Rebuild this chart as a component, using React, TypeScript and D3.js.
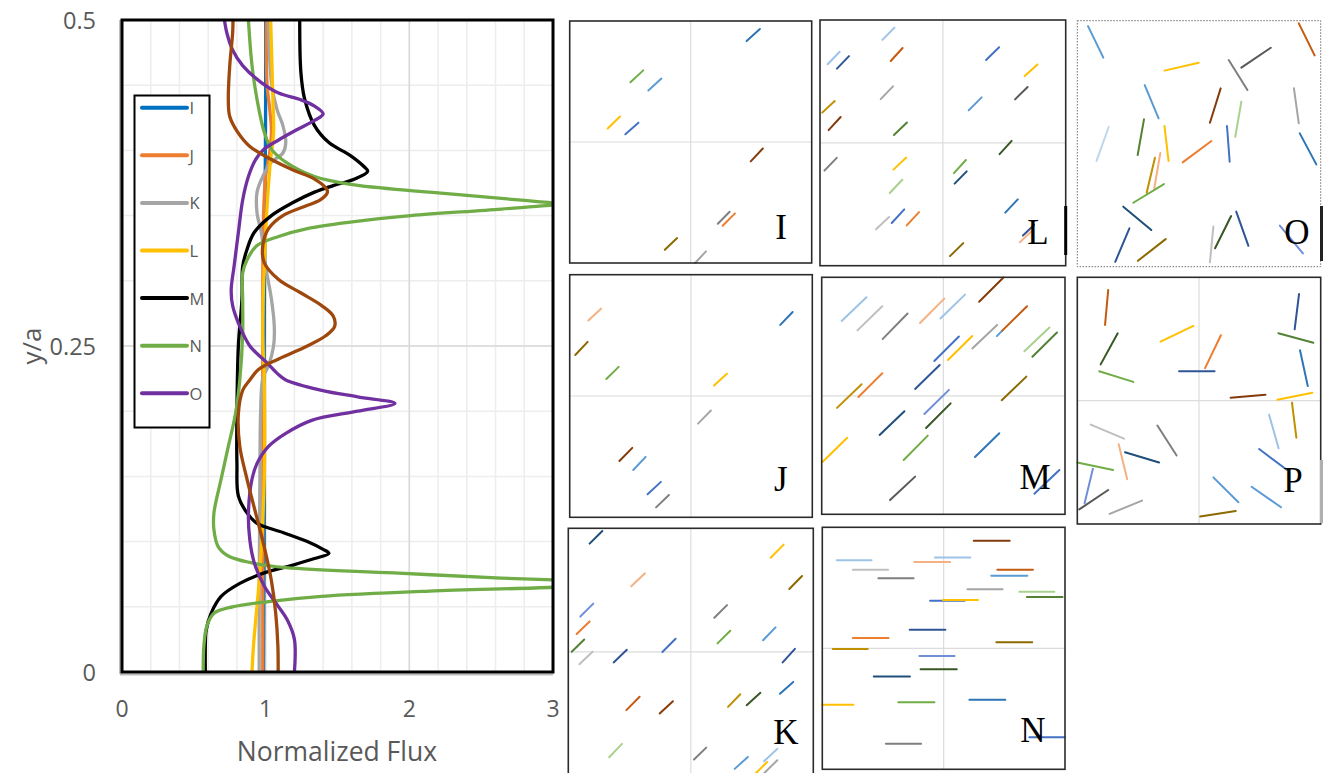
import React from 'react';
import * as d3 from 'd3';

// ---------- main chart data ----------
const xTicks = [0, 1, 2, 3];
const yTicks = [0, 0.25, 0.5];
const xMinor = d3.range(0, 3.0001, 0.2);
const yMinor = d3.range(0, 0.5001, 0.05);
const legendNames = ['I', 'J', 'K', 'L', 'M', 'N', 'O'];
const seriesNames = ['I', 'J', 'K', 'L', 'M', 'N', 'O', 'P'];
const seriesColors = ['#0070C0', '#ED7D31', '#A5A5A5', '#FFC000', '#000000', '#70AD47', '#7030A0', '#9E480E'];

// [y/a, normalized flux]
const fluxI = [[0, 0.985], [0.05, 0.987], [0.1, 0.99], [0.15, 0.99], [0.2, 0.99], [0.25, 0.99], [0.3, 0.992], [0.35, 0.995], [0.4, 0.998], [0.45, 1.0], [0.5, 1.0]];
const fluxJ = [[0, 0.98], [0.1, 0.98], [0.2, 0.98], [0.3, 0.98], [0.35, 0.985], [0.38, 1.0], [0.4, 1.03], [0.415, 1.04], [0.43, 1.03], [0.45, 1.01], [0.5, 1.005]];
const fluxK = [[0, 0.955], [0.05, 0.955], [0.1, 0.957], [0.15, 0.96], [0.2, 0.965], [0.225, 0.98], [0.235, 1.02], [0.25, 1.055], [0.265, 1.06], [0.286, 1.04], [0.311, 1.0], [0.337, 0.97], [0.352, 0.94], [0.368, 0.94], [0.38, 0.98], [0.391, 1.04], [0.398, 1.12], [0.406, 1.14], [0.419, 1.12], [0.431, 1.08], [0.452, 1.04], [0.5, 1.02]];
const fluxL = [[0, 0.905], [0.02, 0.915], [0.045, 0.935], [0.07, 0.955], [0.148, 0.99], [0.224, 0.99], [0.26, 0.98], [0.337, 1.0], [0.388, 1.03], [0.414, 1.055], [0.44, 1.05], [0.5, 1.035]];
const fluxM = [[0, 0.58], [0.02, 0.58], [0.032, 0.586], [0.045, 0.62], [0.058, 0.69], [0.068, 0.82], [0.076, 0.99], [0.082, 1.19], [0.087, 1.34], [0.091, 1.44], [0.094, 1.4], [0.1, 1.29], [0.107, 1.12], [0.114, 0.94], [0.122, 0.87], [0.135, 0.81], [0.16, 0.8], [0.2, 0.8], [0.25, 0.81], [0.286, 0.835], [0.311, 0.84], [0.324, 0.87], [0.337, 0.92], [0.35, 1.04], [0.36, 1.19], [0.368, 1.34], [0.373, 1.47], [0.378, 1.62], [0.384, 1.71], [0.388, 1.68], [0.396, 1.59], [0.406, 1.44], [0.419, 1.34], [0.44, 1.27], [0.46, 1.245], [0.5, 1.237]];
const fluxN = [[0, 0.565], [0.02, 0.57], [0.035, 0.59], [0.045, 0.64], [0.05, 0.77], [0.054, 1.02], [0.058, 1.39], [0.062, 2.14], [0.065, 3.0], [0.068, 3.5], [0.0706, 3.0], [0.072, 2.64], [0.076, 1.89], [0.08, 1.14], [0.084, 0.89], [0.089, 0.74], [0.096, 0.67], [0.109, 0.64], [0.122, 0.64], [0.148, 0.69], [0.173, 0.74], [0.198, 0.79], [0.224, 0.82], [0.26, 0.84], [0.286, 0.84], [0.306, 0.84], [0.316, 0.87], [0.327, 0.94], [0.334, 1.09], [0.34, 1.29], [0.345, 1.59], [0.35, 2.01], [0.355, 2.64], [0.359, 3.03], [0.362, 2.76], [0.368, 2.14], [0.374, 1.59], [0.38, 1.34], [0.391, 1.14], [0.401, 1.04], [0.414, 0.99], [0.439, 0.94], [0.465, 0.905], [0.5, 0.88]];
const fluxO = [[0, 1.2], [0.025, 1.2], [0.04, 1.15], [0.05, 1.09], [0.066, 0.99], [0.084, 0.92], [0.101, 0.89], [0.122, 0.88], [0.148, 0.905], [0.16, 0.94], [0.173, 1.02], [0.183, 1.14], [0.193, 1.32], [0.2, 1.64], [0.206, 1.9], [0.211, 1.64], [0.216, 1.39], [0.224, 1.14], [0.229, 1.08], [0.237, 1.01], [0.25, 0.89], [0.265, 0.82], [0.281, 0.77], [0.293, 0.76], [0.311, 0.78], [0.337, 0.81], [0.362, 0.84], [0.38, 0.88], [0.393, 0.93], [0.401, 0.99], [0.408, 1.09], [0.416, 1.22], [0.423, 1.34], [0.428, 1.4], [0.434, 1.34], [0.439, 1.24], [0.444, 1.09], [0.452, 0.97], [0.465, 0.84], [0.477, 0.77], [0.49, 0.73], [0.5, 0.713]];
const fluxP = [[0, 1.087], [0.02, 1.085], [0.045, 1.07], [0.07, 1.04], [0.096, 0.99], [0.122, 0.93], [0.148, 0.87], [0.173, 0.82], [0.198, 0.81], [0.216, 0.84], [0.224, 0.89], [0.232, 0.95], [0.24, 1.09], [0.25, 1.29], [0.258, 1.42], [0.265, 1.48], [0.273, 1.47], [0.281, 1.39], [0.291, 1.24], [0.301, 1.09], [0.314, 0.99], [0.327, 0.98], [0.34, 1.02], [0.35, 1.12], [0.357, 1.27], [0.362, 1.38], [0.368, 1.43], [0.371, 1.42], [0.378, 1.34], [0.385, 1.19], [0.393, 1.04], [0.403, 0.89], [0.414, 0.805], [0.426, 0.75], [0.439, 0.74], [0.465, 0.75], [0.49, 0.77], [0.5, 0.773]];
const seriesData = [fluxI, fluxJ, fluxK, fluxL, fluxM, fluxN, fluxO, fluxP];

// ---------- panel segment data (panel units 0..100, origin top-left) ----------
const segColors: Record<string, string> = {
  lb: '#9DC3E6', vlb: '#BDD7EE', b: '#5B9BD5', st: '#2E75B6', dst: '#1F4E79', rb: '#4472C4', lrb: '#6F8FD8', nv: '#2F5597',
  o: '#ED7D31', lo: '#F4B183', do: '#C55A11', br: '#843C0C', g: '#A5A5A5', lg: '#BFBFBF', dg: '#7F7F7F', ddg: '#595959',
  y: '#FFC000', dy: '#BF9000', ol: '#8C6A00', gr: '#70AD47', lgr: '#A9D18E', dgr: '#548235', ddgr: '#385723',
};

const segI = [
  [73.1, 8.3, 78.6, 3.3, 'st'], [25.1, 25.3, 30.4, 20.4, 'gr'], [32.5, 28.7, 37.9, 23.8, 'b'], [15.7, 44.4, 20.8, 39.5, 'y'],
  [23, 46.8, 28.4, 42, 'rb'], [74.8, 58, 79.8, 52.7, 'br'], [61.2, 83.8, 66.1, 78.8, 'dg'], [63.2, 84.6, 68.3, 79.5, 'o'],
  [39.3, 94.5, 44.4, 89.7, 'ol'], [51.8, 100, 56.3, 95.2, 'g'],
];
const segJ = [
  [7.7, 18.9, 12.9, 14, 'lo'], [2.3, 33.1, 7.4, 27.7, 'ol'], [15.1, 43, 20.2, 38, 'gr'], [86.8, 20.7, 91.9, 15.4, 'st'],
  [59.5, 45.7, 64.8, 40.8, 'y'], [52.9, 61.4, 58.2, 56, 'g'], [20.5, 76.8, 25.8, 71.4, 'br'], [26.2, 80.5, 31.3, 75.1, 'b'],
  [32.1, 90.5, 37.6, 85.4, 'rb'], [35.6, 95.9, 40.9, 90.8, 'dg'],
];
const segK = [
  [8.7, 6.2, 13.9, 1.1, 'dst'], [25.7, 23.5, 31.3, 18.2, 'lo'], [82.6, 11.9, 87.9, 6.6, 'y'], [90.2, 24.6, 95.4, 19.3, 'ol'],
  [4.9, 35.7, 10.2, 30.5, 'lrb'], [3.4, 42.8, 8.7, 37.7, 'o'], [1.4, 50, 6.5, 45, 'dgr'], [4.5, 55, 9.9, 50, 'lg'],
  [18.5, 54.3, 23.9, 49.2, 'nv'], [38.4, 50.1, 43.8, 44.7, 'rb'], [59.6, 36.2, 64.8, 31.1, 'dg'], [60.9, 46.6, 66.1, 41.5, 'gr'],
  [79.5, 45.3, 84.6, 40.1, 'b'], [87.5, 54.3, 92.5, 48.8, 'nv'], [23.7, 73.6, 29.1, 68.2, 'do'], [37.3, 75, 42.7, 70, 'br'],
  [65.2, 72.3, 70.2, 67.2, 'dy'], [72.8, 71.6, 78.4, 66.6, 'ddgr'], [86.4, 67, 91.8, 62.2, 'st'], [16.7, 92.7, 21.9, 87.3, 'lgr'],
  [51.3, 93.6, 56.3, 88.8, 'dg'], [67.9, 97.4, 73.3, 92.6, 'b'], [79.9, 94.3, 85.3, 89.3, 'lb'], [76.6, 99.1, 81.2, 94.6, 'y'],
  [80, 99.1, 85.3, 93.9, 'g'],
];
const segL = [
  [25.4, 8.1, 30.3, 3.1, 'lb'], [3.1, 18, 8, 12.9, 'lb'], [6.9, 19.8, 11.8, 14.7, 'nv'], [28.8, 16.7, 33.6, 11.4, 'do'],
  [24.7, 32.2, 29.7, 27, 'g'], [0.9, 37.7, 6, 33, 'dy'], [3.5, 44.8, 8.4, 39.5, 'br'], [30.1, 46.8, 35.4, 41.7, 'dgr'],
  [67.6, 16.3, 72.9, 11.1, 'rb'], [83.3, 22.8, 88.5, 18.1, 'y'], [79.4, 32.3, 84.5, 27.3, 'ddg'], [60.5, 36.8, 65.8, 31.5, 'b'],
  [1.8, 61.3, 6.8, 56.1, 'dg'], [29.9, 60.9, 35.1, 56, 'y'], [28.4, 70.4, 33.5, 65, 'lgr'], [22.8, 85.2, 28.1, 80.2, 'lg'],
  [29.2, 82.6, 34.3, 77.1, 'rb'], [35.3, 83.6, 40.3, 78.2, 'o'], [73.1, 54.6, 78, 49.2, 'ddgr'], [54.5, 62.3, 59.4, 57, 'gr'],
  [54.8, 66.6, 59.7, 61.6, 'dst'], [75.4, 78.4, 80.5, 73, 'st'], [82.6, 87.7, 87.1, 83.4, 'nv'], [81.3, 90.5, 86.2, 85.9, 'lo'],
  [52.9, 96.1, 58.3, 90.8, 'ol'],
];
const segM = [
  [8.2, 18.4, 18.4, 8.4, 'lb'], [14.7, 22.4, 24.9, 12.2, 'lg'], [25.1, 26, 35.3, 15.3, 'dg'], [40.4, 19.3, 50.4, 9, 'lo'],
  [48.8, 17.4, 58.9, 7.3, 'lb'], [64.7, 10.3, 74.7, 0.1, 'br'], [72, 24.8, 74.2, 22.5, 'b'], [74.2, 22.5, 84.4, 12.2, 'do'],
  [61.9, 30, 72.1, 20.1, 'g'], [83.3, 31.2, 93.6, 21.2, 'lgr'], [86.6, 33.5, 96.7, 23.3, 'dgr'], [46.3, 35.3, 56.4, 25, 'rb'],
  [51.9, 34.9, 61.9, 24.8, 'y'], [38.4, 47.1, 48.5, 37, 'nv'], [6.3, 55.1, 16.4, 45.1, 'dy'], [15.1, 50.5, 24.9, 40.5, 'o'],
  [74, 51.9, 84.1, 41.9, 'ol'], [42.2, 57.7, 52.3, 47.5, 'lrb'], [42.9, 63.6, 53, 53.2, 'ddgr'], [23.8, 66.5, 34, 56.5, 'dst'],
  [0.3, 77.9, 10.5, 67.7, 'y'], [33.7, 77.1, 43.6, 66.8, 'gr'], [63, 75.8, 73, 65.8, 'st'], [28.1, 94, 38.4, 84.1, 'ddg'],
  [87.4, 91.3, 97.7, 81.3, 'rb'],
];
const segN = [
  [62.4, 5.6, 77.2, 5.6, 'br'], [46.4, 12.5, 61, 12.5, 'lb'], [37.9, 14.3, 52.7, 14.3, 'lo'], [6, 13.6, 20.3, 13.6, 'lb'],
  [12.6, 17.5, 27.1, 17.5, 'lg'], [23.1, 21.1, 37.6, 21.1, 'dg'], [72.1, 17.5, 86.8, 17.5, 'do'], [69.6, 20, 84.5, 20, 'b'],
  [59.8, 25.6, 74.3, 25.6, 'g'], [81.2, 26.6, 95.6, 26.6, 'lgr'], [84.3, 28.8, 99, 28.8, 'dgr'], [44.4, 30.4, 58.7, 30.4, 'rb'],
  [49.7, 30, 64.1, 30, 'y'], [36, 42.3, 50.7, 42.3, 'nv'], [12.6, 45.7, 27.3, 45.7, 'o'], [4.3, 50.3, 18.7, 50.3, 'dy'],
  [71.7, 47.5, 86.5, 47.5, 'ol'], [40, 53.2, 54.5, 53.2, 'lrb'], [40.5, 58.7, 55.4, 58.7, 'ddgr'], [21.2, 61.7, 36.1, 61.7, 'dst'],
  [0, 73.3, 12.8, 73.3, 'y'], [31.3, 72.3, 46.2, 72.3, 'gr'], [60.6, 71.3, 75.4, 71.3, 'st'], [26.2, 89.4, 40.7, 89.4, 'dg'],
  [85.3, 86.8, 100, 86.8, 'rb'],
];
const segO = [
  [4.4, 2.2, 10.7, 15, 'b'], [91, 1.1, 97.5, 14.1, 'do'], [35.8, 20.3, 49.9, 17.1, 'y'], [67.4, 19.1, 79.5, 11, 'ddg'],
  [62.2, 16, 69.9, 28.2, 'dg'], [27.7, 26.2, 33.4, 39.7, 'b'], [58.9, 27.5, 54.5, 41.5, 'br'], [67.4, 32.9, 64.9, 47.2, 'lgr'],
  [89, 27.5, 91, 41.7, 'g'], [12.9, 43.2, 7.9, 57, 'vlb'], [27.4, 40.1, 24.8, 54.6, 'dgr'], [35.8, 42.8, 37.5, 57, 'y'],
  [43.3, 57.6, 55.1, 48.9, 'o'], [61.5, 42.8, 62.6, 57.3, 'rb'], [91.4, 45.8, 98.2, 58.4, 'st'], [31.9, 55.7, 28.5, 69.9, 'dy'],
  [34.1, 53.8, 31.6, 68.3, 'lo'], [23, 74, 35.6, 66.4, 'gr'], [18.9, 75.6, 30.4, 85.1, 'dst'], [21.4, 84.4, 15.6, 98, 'nv'],
  [24.9, 97.6, 36.3, 88.8, 'ol'], [55.9, 83.7, 54.5, 98.2, 'lg'], [63.2, 79.4, 56.6, 92.5, 'ddgr'], [65.3, 77.6, 70.3, 91.5, 'nv'],
  [83.2, 83.3, 92.7, 94.6, 'lrb'],
];
const segP = [
  [12.7, 5.1, 11.4, 19.3, 'do'], [16.6, 22.7, 9.6, 35.3, 'ddgr'], [9, 38.1, 23, 42.4, 'gr'], [34.2, 26.1, 47.7, 19.7, 'y'],
  [41.8, 38.1, 56.4, 38.1, 'nv'], [59, 23.5, 52.5, 36.8, 'o'], [91.1, 6.8, 89.3, 21.1, 'nv'], [82.6, 22.7, 97, 26.5, 'dgr'],
  [91.5, 29.6, 94.7, 44.1, 'st'], [63, 48.8, 77.3, 47.6, 'br'], [82.2, 49.6, 96.6, 46.8, 'y'], [88.2, 50.8, 90, 65, 'dy'],
  [78.8, 55.7, 82.7, 69.3, 'lb'], [5.5, 59.7, 19.2, 65.4, 'lg'], [32.9, 60.1, 40.8, 72.2, 'dg'], [17, 67.7, 20.5, 81.9, 'lo'],
  [19.6, 70.9, 33.6, 75.1, 'dst'], [0, 75.1, 14.7, 78.1, 'gr'], [6.4, 77.6, 3, 91.6, 'lrb'], [0.8, 94.1, 12.7, 86.2, 'ddg'],
  [13.3, 95.9, 26.6, 90.5, 'g'], [74.7, 69.6, 86.2, 78.1, 'rb'], [55.9, 81.1, 66.2, 91.2, 'b'], [71.6, 84.9, 83.7, 93.2, 'b'],
  [50.5, 97, 65.1, 94.7, 'ol'],
];

// ---------- layout ----------
const W = 1325, H = 773;
const plot = { left: 122, right: 553, top: 20, bottom: 672 };

type Panel = { name: string; x: number; y: number; w: number; h: number; segs: any[]; dotted?: boolean; cross: boolean; lx: number; ly: number };
const panels: Panel[] = [
  { name: 'I', x: 569.7, y: 21, w: 242, h: 242, segs: segI, cross: true, lx: 781, ly: 227 },
  { name: 'J', x: 569.7, y: 274.7, w: 242.6, h: 242.6, segs: segJ, cross: true, lx: 780.7, ly: 479 },
  { name: 'K', x: 568.3, y: 528.3, w: 245, h: 247, segs: segK, cross: true, lx: 786, ly: 732 },
  { name: 'L', x: 820, y: 20, w: 245.7, h: 245.7, segs: segL, cross: true, lx: 1038, ly: 232 },
  { name: 'M', x: 821.7, y: 277.3, w: 243.3, h: 237, segs: segM, cross: true, lx: 1035, ly: 477 },
  { name: 'N', x: 822.3, y: 527.3, w: 242.7, h: 242, segs: segN, cross: true, lx: 1033, ly: 730 },
  { name: 'O', x: 1077.3, y: 20.7, w: 243.4, h: 246, segs: segO, cross: false, dotted: true, lx: 1297, ly: 232 },
  { name: 'P', x: 1077.3, y: 277.3, w: 243.4, h: 246.7, segs: segP, cross: true, lx: 1293, ly: 480 },
];
const edgeBars = [
  { x: 1065.7, y1: 206, y2: 255, color: '#000' },
  { x: 1321.5, y1: 206, y2: 261, color: '#222' },
  { x: 1321.5, y1: 460, y2: 523, color: '#B0B0B0' },
];

export default function App() {
  const x = d3.scaleLinear().domain([0, 3]).range([plot.left, plot.right]);
  const y = d3.scaleLinear().domain([0, 0.5]).range([plot.bottom, plot.top]);
  const line = d3.line<number[]>().x(d => x(d[1])).y(d => y(d[0])).curve(d3.curveCatmullRom.alpha(0.5));
  const legY = d3.scaleLinear().domain([0, 6]).range([107.7, 393.3]);
  const axisColor = '#595959';
  const font = "'Open Sans', sans-serif";

  return (
    <svg width={W} height={H} style={{ position: 'absolute', left: 0, top: 0, background: '#fff' }}>
      <defs>
        <clipPath id="plotClip">
          <rect x={plot.left} y={plot.top} width={plot.right - plot.left} height={plot.bottom - plot.top} />
        </clipPath>
      </defs>
      <rect x={0} y={0} width={W} height={H} fill="#fff" />
      {/* grid */}
      {xMinor.map((v, i) => (
        <line key={'xm' + i} x1={x(v)} x2={x(v)} y1={plot.top} y2={plot.bottom} stroke="#EDEDED" strokeWidth={1.5} />
      ))}
      {yMinor.map((v, i) => (
        <line key={'ym' + i} x1={plot.left} x2={plot.right} y1={y(v)} y2={y(v)} stroke="#EDEDED" strokeWidth={1.5} />
      ))}
      {xTicks.map(v => (
        <line key={'xg' + v} x1={x(v)} x2={x(v)} y1={plot.top} y2={plot.bottom} stroke="#D9D9D9" strokeWidth={1.5} />
      ))}
      {yTicks.map(v => (
        <line key={'yg' + v} x1={plot.left} x2={plot.right} y1={y(v)} y2={y(v)} stroke="#D9D9D9" strokeWidth={1.5} />
      ))}
      {/* series */}
      <g clipPath="url(#plotClip)">
        {seriesData.map((s, i) => (
          <path key={seriesNames[i]} d={line(s) || ''} fill="none" stroke={seriesColors[i]} strokeWidth={3.3} strokeLinejoin="round" />
        ))}
      </g>
      <line x1={plot.left - 2} x2={plot.left - 2} y1={plot.top} y2={plot.bottom + 2} stroke="#BFBFBF" strokeWidth={2} />
      <line x1={plot.left - 2} x2={plot.right} y1={plot.bottom + 2.5} y2={plot.bottom + 2.5} stroke="#BFBFBF" strokeWidth={2} />
      <rect x={plot.left} y={plot.top} width={plot.right - plot.left} height={plot.bottom - plot.top} fill="none" stroke="#000" strokeWidth={3} />
      {/* ticks */}
      {yTicks.map(v => (
        <text key={'yt' + v} x={96} y={y(v)} textAnchor="end" dominantBaseline="central" fontFamily={font} fontSize={23.5} fill={axisColor}>{String(v)}</text>
      ))}
      {xTicks.map(v => (
        <text key={'xt' + v} x={x(v)} y={708} textAnchor="middle" dominantBaseline="central" fontFamily={font} fontSize={23} fill={axisColor}>{String(v)}</text>
      ))}
      <text x={337} y={751} textAnchor="middle" dominantBaseline="central" fontFamily={font} fontSize={26.5} fill={axisColor}>Normalized Flux</text>
      <text transform={`translate(31,346) rotate(-90)`} textAnchor="middle" dominantBaseline="central" fontFamily={font} fontSize={26} fill={axisColor}>y/a</text>
      {/* legend */}
      <rect x={134.5} y={95.5} width={75} height={332} fill="#fff" stroke="#000" strokeWidth={2} />
      {legendNames.map((n, i) => (
        <g key={'lg' + n}>
          <line x1={142} x2={187} y1={legY(i)} y2={legY(i)} stroke={seriesColors[i]} strokeWidth={4} strokeLinecap="round" />
          <text x={189.5} y={legY(i)} dominantBaseline="central" fontFamily={font} fontSize={16.5} fill={axisColor}>{n}</text>
        </g>
      ))}
      {/* panels */}
      {panels.map(p => {
        const px = d3.scaleLinear().domain([0, 100]).range([p.x, p.x + p.w]);
        const py = d3.scaleLinear().domain([0, 100]).range([p.y, p.y + p.h]);
        return (
          <g key={'p' + p.name}>
            {p.cross && (
              <g>
                <line x1={px(50)} x2={px(50)} y1={p.y} y2={p.y + p.h} stroke="#DCDCDC" strokeWidth={1.2} />
                <line x1={p.x} x2={p.x + p.w} y1={py(50)} y2={py(50)} stroke="#DCDCDC" strokeWidth={1.2} />
              </g>
            )}
            {p.segs.map((s, i) => (
              <line key={i} x1={px(s[0])} y1={py(s[1])} x2={px(s[2])} y2={py(s[3])} stroke={segColors[s[4]]} strokeWidth={2} strokeLinecap="round" />
            ))}
            <rect x={p.x} y={p.y} width={p.w} height={p.h} fill="none"
              stroke={p.dotted ? '#6E6E6E' : '#2B2B2B'} strokeWidth={p.dotted ? 1 : 1.6} strokeDasharray={p.dotted ? '1.5,1.5' : undefined} />
            <text x={p.lx} y={p.ly} textAnchor="middle" dominantBaseline="central" fontFamily="'Liberation Serif', 'Times New Roman', serif" fontSize={35} fill="#000">{p.name}</text>
          </g>
        );
      })}
      {edgeBars.map((b, i) => (
        <line key={'eb' + i} x1={b.x} x2={b.x} y1={b.y1} y2={b.y2} stroke={b.color} strokeWidth={3} />
      ))}
    </svg>
  );
}
